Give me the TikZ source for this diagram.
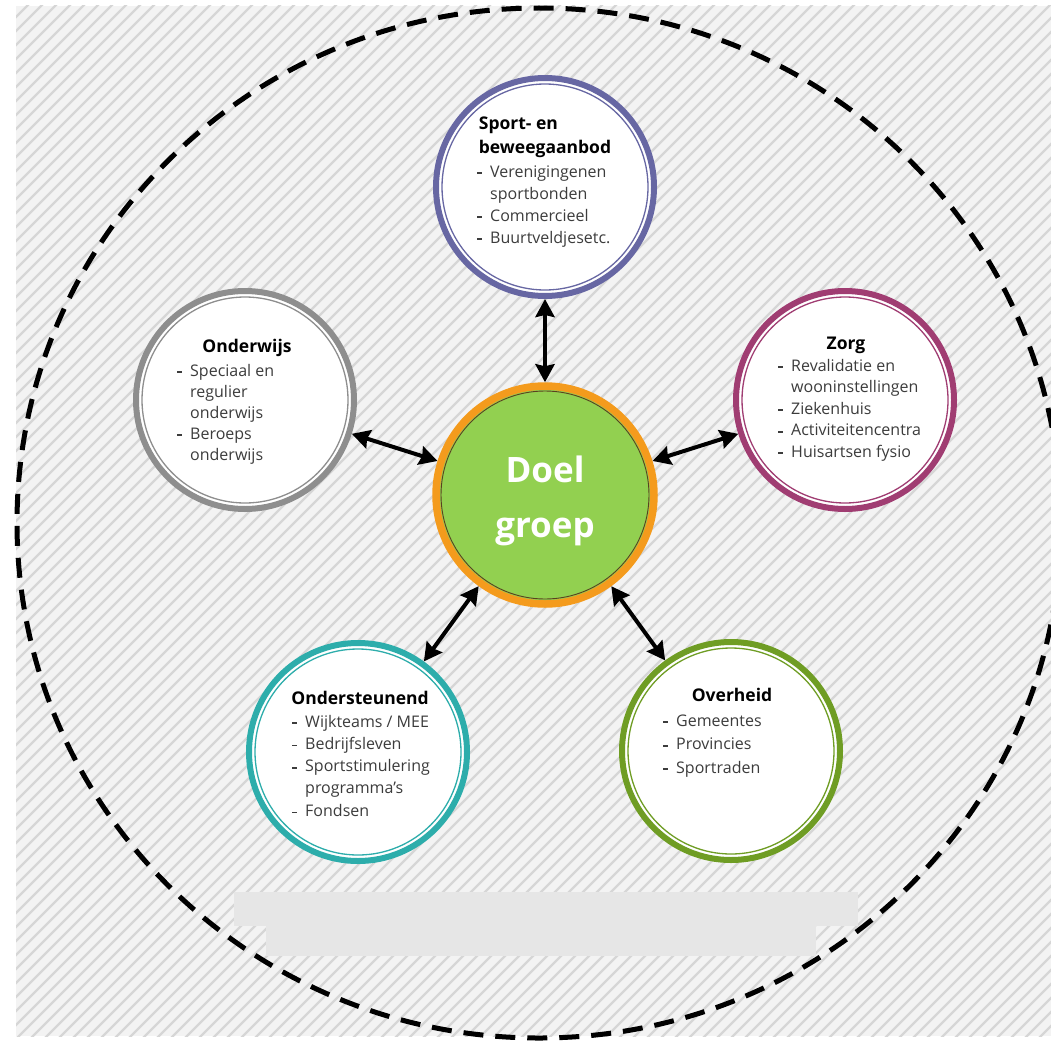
\documentclass[tikz,border=0pt]{standalone}
\usepackage{fontspec}
\setmainfont{Open Sans}
\usetikzlibrary{arrows.meta}
\definecolor{purpc}{HTML}{6767A3}
\definecolor{grayc}{HTML}{8E8E8E}
\definecolor{plumc}{HTML}{A03D72}
\definecolor{tealc}{HTML}{2DADAB}
\definecolor{olivec}{HTML}{6F9D24}
\definecolor{orngc}{HTML}{F49B1D}
\definecolor{grnc}{HTML}{92D050}
\definecolor{brnc}{HTML}{5A4020}
\definecolor{hatchbg}{HTML}{F3F3F3}
\definecolor{hatchln}{HTML}{D6D6D6}
\definecolor{boxgray}{HTML}{E6E6E6}
\definecolor{txtc}{HTML}{3C3C3C}
\newcommand\bl{\makebox[13pt][l]{\rule[3pt]{5pt}{1.6pt}}}
\newcommand\nb{\hspace*{13pt}}
\tikzset{
  ring/.style={circle, draw=#1, line width=6pt, fill=white, minimum size=218pt, inner sep=0pt},
  inring/.style={draw=#1, line width=1.3pt},
  ttl/.style={anchor=base, inner sep=0pt, font=\bfseries\fontsize{17.5}{24}\selectfont, text=black},
  itm/.style={anchor=base west, inner sep=0pt, text=txtc, font=\fontsize{16}{#1}\selectfont},
  dbl/.style={line width=4pt, {Stealth[length=18pt,width=19pt,inset=2pt]}-{Stealth[length=18pt,width=19pt,inset=2pt]}},
}
\begin{document}
\begin{tikzpicture}[x=1pt,y=-1pt]
\useasboundingbox (0,0) rectangle (1051,1041);
\fill[white] (0,0) rectangle (1051,1041);
\fill[hatchbg] (16,6) rectangle (1051,1036);
\begin{scope}
  \clip (16,6) rectangle (1051,1036);
  \foreach \a in {-1050,-1036,...,1070}
    \draw[hatchln, line width=2.2pt] (\a,1041) -- ++(1041,-1041);
\end{scope}
% big dashed circle
\draw[black, line width=5pt, dash pattern=on 20pt off 12pt] (539,523) ellipse [x radius=522pt, y radius=515pt];
% gray label boxes
\fill[boxgray] (234,892) rectangle (858,926);
\fill[boxgray] (266,925) rectangle (816,956);
% satellites
\node[ring=purpc] (csport) at (545,187) {};
\draw[inring=purpc] (csport.center) circle[radius=103pt];
\node[ring=grayc] (cond) at (245,400) {};
\draw[inring=grayc] (cond.center) circle[radius=103pt];
\node[ring=plumc] (czorg) at (845,400) {};
\draw[inring=plumc] (czorg.center) circle[radius=103pt];
\node[ring=tealc] (conder) at (358,752) {};
\draw[inring=tealc] (conder.center) circle[radius=103pt];
\node[ring=olivec] (cover) at (731,751) {};
\draw[inring=olivec] (cover.center) circle[radius=103pt];
% centre
\node[circle, draw=orngc, line width=7.5pt, fill=grnc, minimum size=218pt, inner sep=0pt] (cdoel) at (545,495) {};
\draw[brnc, line width=0.9pt] (cdoel.center) circle[radius=104pt];
\node[anchor=base, inner sep=0pt, text=white, font=\bfseries\fontsize{35}{55}\selectfont] (tdoel) at (545,482) {\begin{tabular}[t]{@{}c@{}}Doel\\groep\end{tabular}};
% arrows
\draw[dbl] (cdoel) -- (csport);
\draw[dbl] (cdoel) -- (cond);
\draw[dbl] (cdoel) -- (czorg);
\draw[dbl] (cdoel) -- (conder);
\draw[dbl] (cdoel) -- (cover);
% texts
\node[ttl] (tsport) at (545,129) {\begin{tabular}[t]{@{}l@{}}Sport- en\\beweegaanbod\end{tabular}};
\node[itm=22] (isport) at (477,177) {\begin{tabular}[t]{@{}l@{}}\bl Verenigingenen\\\nb sportbonden\\\bl Commercieel\\\bl Buurtveldjesetc.\end{tabular}};
\node[ttl] (tond) at (247,352) {Onderwijs};
\node[itm=21] (iond) at (177,376) {\begin{tabular}[t]{@{}l@{}}\bl Speciaal en\\\nb regulier\\\nb onderwijs\\\bl Beroeps\\\nb onderwijs\end{tabular}};
\node[ttl] (tzorg) at (846,349) {Zorg};
\node[itm=21.5] (izorg) at (778,371) {\begin{tabular}[t]{@{}l@{}}\bl Revalidatie en\\\nb wooninstellingen\\\bl Ziekenhuis\\\bl Activiteitencentra\\\bl Huisartsen fysio\end{tabular}};
\node[ttl] (tonder) at (360,704) {Ondersteunend};
\node[itm=22.3] (ionder) at (292,727) {\begin{tabular}[t]{@{}l@{}}\bl Wijkteams / MEE\\\bl Bedrijfsleven\\\bl Sportstimulering\\\nb programma's\\\bl Fondsen\end{tabular}};
\node[ttl] (tover) at (732,701) {Overheid};
\node[itm=23.5] (iover) at (663,726) {\begin{tabular}[t]{@{}l@{}}\bl Gemeentes\\\bl Provincies\\\bl Sportraden\end{tabular}};
\end{tikzpicture}
\end{document}
